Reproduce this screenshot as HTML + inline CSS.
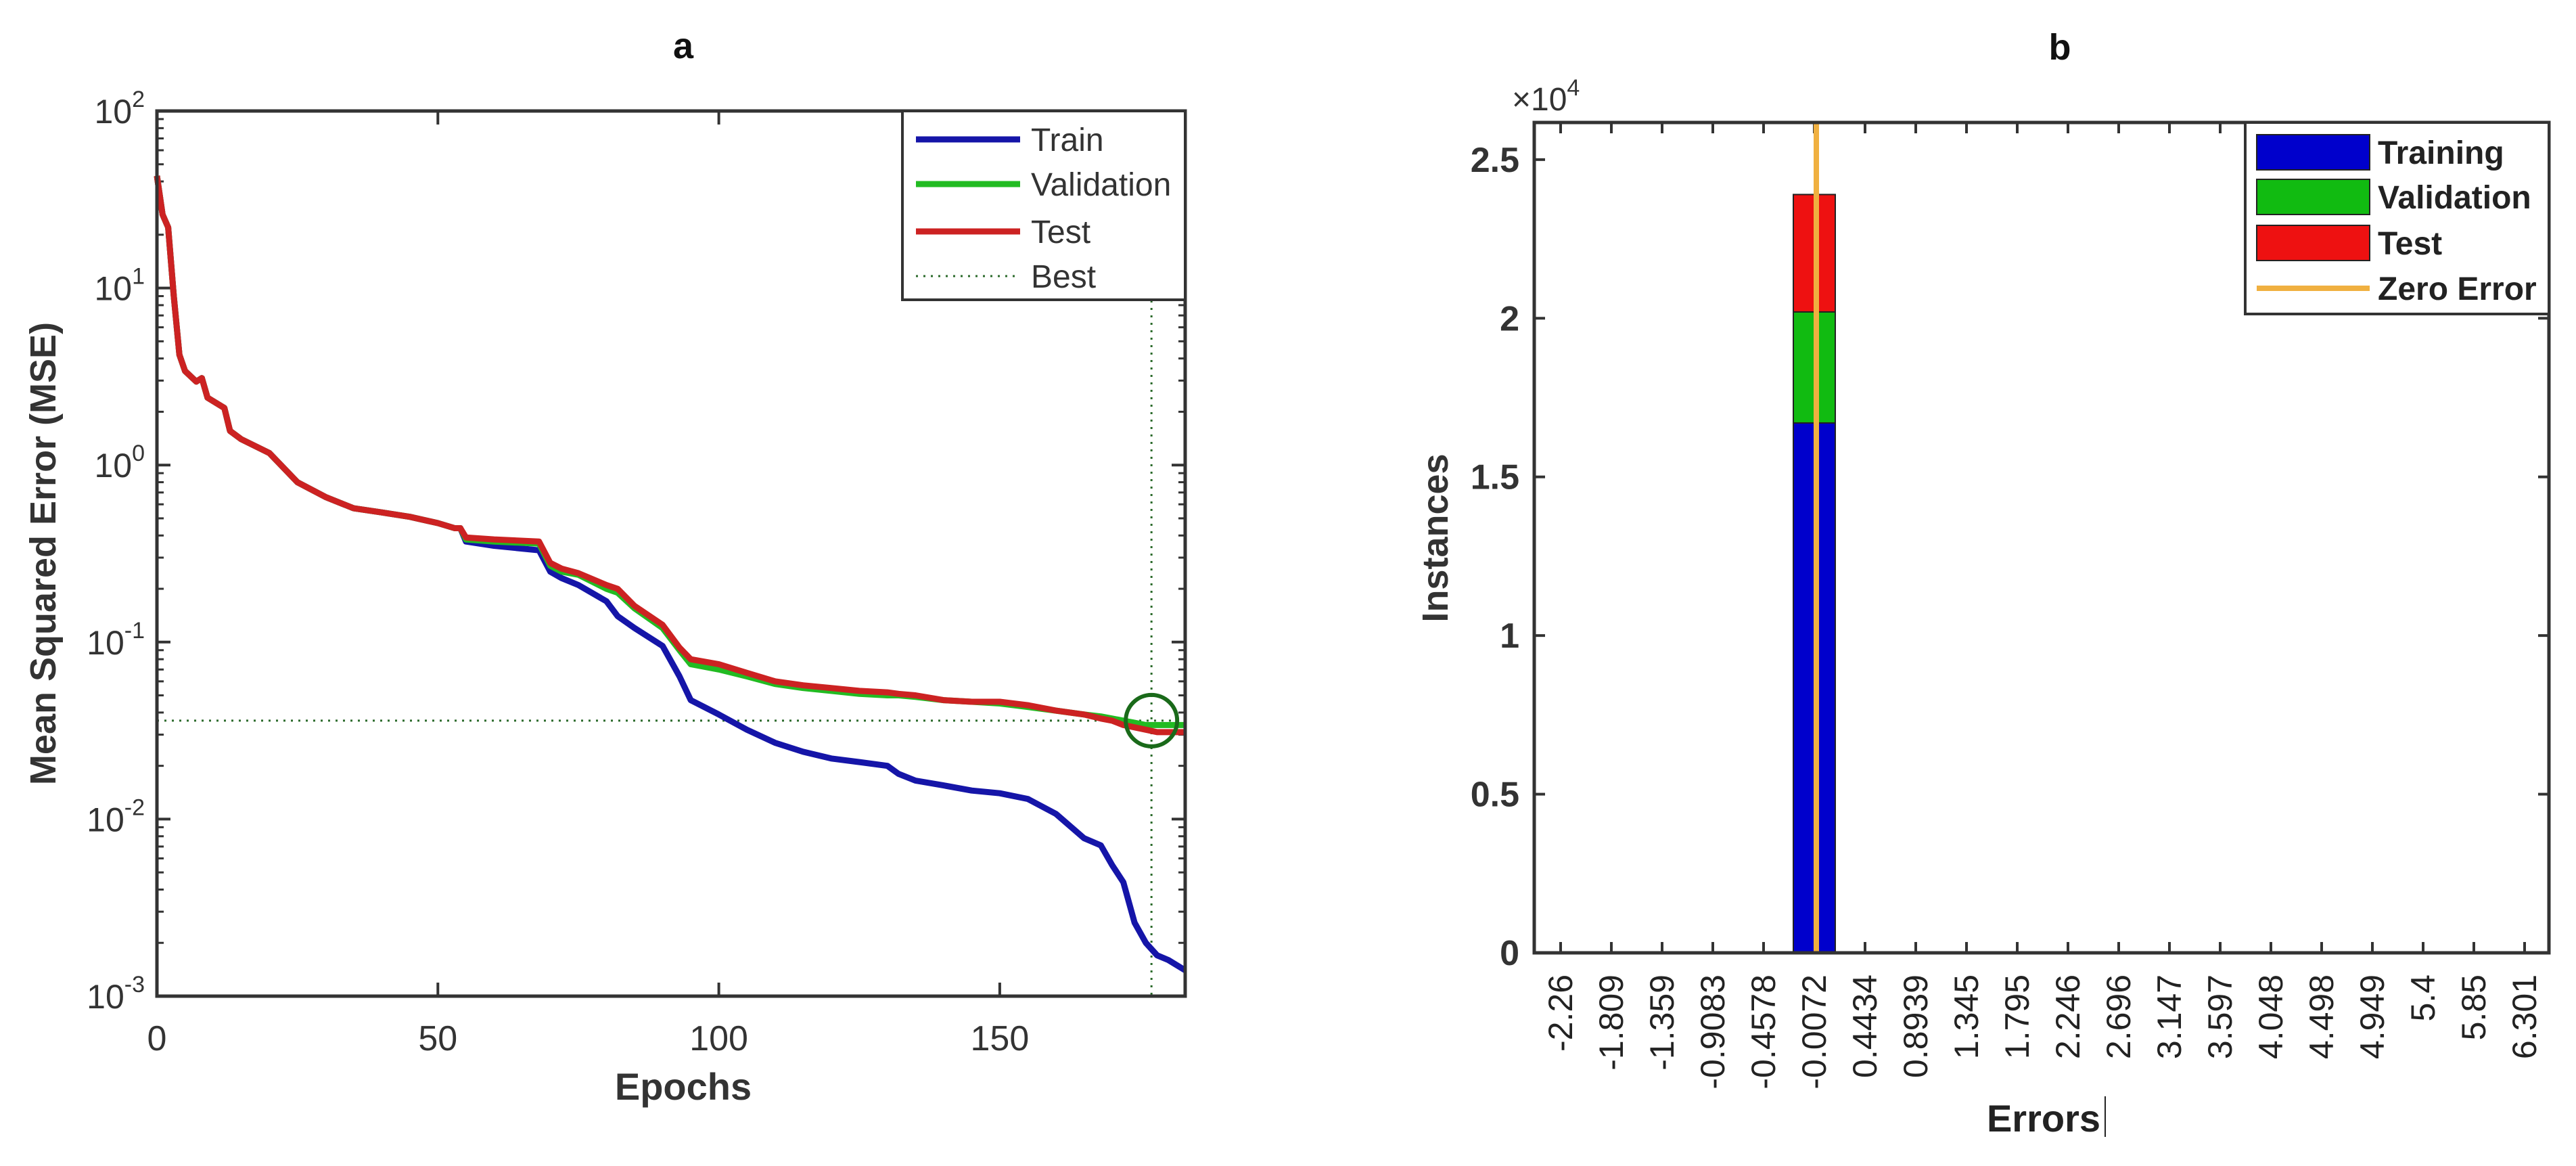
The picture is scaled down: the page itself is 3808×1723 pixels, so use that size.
<!DOCTYPE html>
<html><head><meta charset="utf-8"><style>
html,body{margin:0;padding:0;background:#fff;}
svg{display:block;font-family:"Liberation Sans",Arial,sans-serif;}
</style></head><body>
<svg id="fig" width="3808" height="1723" viewBox="0 0 3808 1723" xmlns="http://www.w3.org/2000/svg">
<g id="pa"></g>
<g id="pb"></g>
</svg>
<script>
// ---- Plot a: performance data ----
const epochs    = [0,1,2,3,4,5,7,8,9,12,13,15,20,25,30,35,40,45,50,53,54,55,60,68,70,72,75,80,82,85,90,93,95,100,105,110,115,120,125,130,132,135,140,145,150,155,160,165,168,170,172,174,176,178,180,183];
const trainMSE  = [43,26,22,9,4.2,3.4,2.96,3.1,2.4,2.1,1.56,1.4,1.17,0.8,0.66,0.57,0.54,0.51,0.47,0.44,0.44,0.37,0.35,0.33,0.25,0.23,0.21,0.17,0.14,0.12,0.095,0.064,0.047,0.039,0.032,0.027,0.024,0.022,0.021,0.020,0.018,0.0165,0.0155,0.0145,0.014,0.013,0.0107,0.0078,0.0071,0.0055,0.0044,0.0026,0.002,0.0017,0.0016,0.0014];
const valMSE    = [43,26,22,9,4.2,3.4,2.96,3.1,2.4,2.1,1.56,1.4,1.17,0.8,0.66,0.57,0.54,0.51,0.47,0.44,0.44,0.38,0.37,0.36,0.27,0.25,0.24,0.2,0.19,0.155,0.12,0.09,0.075,0.07,0.064,0.058,0.055,0.053,0.051,0.05,0.05,0.049,0.047,0.046,0.045,0.043,0.041,0.039,0.038,0.037,0.036,0.035,0.034,0.034,0.034,0.034];
const testMSE   = [43,26,22,9,4.2,3.4,2.96,3.1,2.4,2.1,1.56,1.4,1.17,0.8,0.66,0.57,0.54,0.51,0.47,0.44,0.44,0.39,0.38,0.37,0.28,0.26,0.245,0.21,0.2,0.16,0.125,0.093,0.08,0.075,0.067,0.06,0.057,0.055,0.053,0.052,0.051,0.05,0.047,0.046,0.046,0.044,0.041,0.039,0.037,0.036,0.034,0.033,0.032,0.031,0.031,0.031];
const bestEpoch = 177;
const bestMSE   = 0.036;
const xTicksA   = [0,50,100,150];
const yExpA     = [2,1,0,-1,-2,-3];
// ---- Plot b: histogram data ----
const binLabels = ["-2.26","-1.809","-1.359","-0.9083","-0.4578","-0.0072","0.4434","0.8939","1.345","1.795","2.246","2.696","3.147","3.597","4.048","4.498","4.949","5.4","5.85","6.301"];
const trainCounts = [0,0,0,0,0,16700,0,0,0,0,0,0,0,0,0,0,0,0,0,0];
const valCounts   = [0,0,0,0,0,3500,0,0,0,0,0,0,0,0,0,0,0,0,0,0];
const testCounts  = [0,0,0,0,0,3700,0,0,0,0,0,0,0,0,0,0,0,0,0,0];
const zeroErrorBin = 5;
const yTicksB = [0,0.5,1,1.5,2,2.5];

const NS="http://www.w3.org/2000/svg";
function mk(parent,tag,attrs,text){const e=document.createElementNS(NS,tag);for(const k in attrs)e.setAttribute(k,attrs[k]);if(text!==undefined)e.textContent=text;parent.appendChild(e);return e;}

// ===== Plot a =====
(function(){
const g=document.getElementById('pa');
const L=232,R=1752,T=164,B=1472,XMAX=183;
const xs=v=>L+(v/XMAX)*(R-L);
const ys=v=>T+(2-Math.log10(v))/5*(B-T);
let e;
e=mk(g,'text',{x:1010,y:86,'font-size':54,'font-weight':'bold','text-anchor':'middle',fill:'#111'},'a');


e=mk(g,'rect',{x:L,y:T,width:R-L,height:B-T,fill:'#fff'});


// minor log ticks
for(let d=-3;d<2;d++){for(let m=2;m<10;m++){const y=ys(m*Math.pow(10,d));
 mk(g,'line',{x1:L,x2:L+10,y1:y,y2:y,stroke:'#333','stroke-width':3});
 mk(g,'line',{x1:R,x2:R-10,y1:y,y2:y,stroke:'#333','stroke-width':3});}}
yExpA.forEach(p=>{const y=ys(Math.pow(10,p));
 mk(g,'line',{x1:L,x2:L+20,y1:y,y2:y,stroke:'#333','stroke-width':4});
 mk(g,'line',{x1:R,x2:R-20,y1:y,y2:y,stroke:'#333','stroke-width':4});
 e=mk(g,'text',{x:L-18,y:y+18,'font-size':50,'text-anchor':'end',fill:'#333'});
 
 
 mk(e,'tspan',{},'10');mk(e,'tspan',{dy:-24,'font-size':34},String(p));
});
xTicksA.forEach(v=>{const x=xs(v);
 mk(g,'line',{x1:x,x2:x,y1:B,y2:B-20,stroke:'#333','stroke-width':4});
 mk(g,'line',{x1:x,x2:x,y1:T,y2:T+20,stroke:'#333','stroke-width':4});
 e=mk(g,'text',{x:x,y:1552,'font-size':52,'text-anchor':'middle',fill:'#333'},String(v));
 
 
});
// best lines
e=mk(g,'line',{x1:L,x2:R,y1:ys(bestMSE),y2:ys(bestMSE),stroke:'#2a6a2a','stroke-width':3,'stroke-dasharray':'3,8'});


e=mk(g,'line',{x1:xs(bestEpoch),x2:xs(bestEpoch),y1:T+280,y2:B,stroke:'#2a6a2a','stroke-width':3,'stroke-dasharray':'3,8'});


const series=[['train-line',trainMSE,'#1515a8'],['validation-line',valMSE,'#22bb22'],['test-line',testMSE,'#cc2222']];
series.forEach(s=>{const pts=epochs.map((ep,i)=>xs(ep).toFixed(1)+','+ys(s[1][i]).toFixed(1)).join(' ');
 e=mk(g,'polyline',{points:pts,fill:'none',stroke:s[2],'stroke-width':9,'stroke-linejoin':'round'});
 
 
});
e=mk(g,'circle',{cx:xs(bestEpoch),cy:ys(bestMSE),r:38,fill:'none',stroke:'#1a6a1a','stroke-width':6});


e=mk(g,'rect',{x:L,y:T,width:R-L,height:B-T,fill:'none',stroke:'#333','stroke-width':5});


// legend
const lg=mk(g,'g',{});


mk(lg,'rect',{x:1334,y:164,width:418,height:279,fill:'#fff',stroke:'#333','stroke-width':4});
const lent=[['Train','#1515a8',206,''],['Validation','#22bb22',272,''],['Test','#cc2222',342,''],['Best','#2a6a2a',408,'3,8']];
lent.forEach(l=>{const le=mk(lg,'g',{});
 
 
 mk(le,'line',{x1:1354,x2:1508,y1:l[2],y2:l[2],stroke:l[1],'stroke-width':l[3]?3:9,'stroke-dasharray':l[3]||'none'});
 mk(le,'text',{x:1524,y:l[2]+17,'font-size':48,fill:'#333'},l[0]);
});
e=mk(g,'text',{x:1010,y:1625,'font-size':56,'font-weight':'bold','text-anchor':'middle',fill:'#333'},'Epochs');


e=mk(g,'text',{x:0,y:0,'font-size':54,'font-weight':'bold','text-anchor':'middle',fill:'#333',transform:'translate(82,818) rotate(-90)'},'Mean Squared Error  (MSE)');


})();

// ===== Plot b =====
(function(){
const g=document.getElementById('pb');
const L=2268,R=3768,T=181,B=1408,X0=2307,BW=75,YMAX=2.617;
const xs=i=>X0+i*BW;
const ys=v=>B-(v/1e4)/YMAX*(B-T);
let e;
e=mk(g,'text',{x:3045,y:88,'font-size':54,'font-weight':'bold','text-anchor':'middle',fill:'#111'},'b');


e=mk(g,'text',{x:2235,y:163,'font-size':48,fill:'#333'});


mk(e,'tspan',{},'×10');mk(e,'tspan',{dy:-22,'font-size':34},'4');
binLabels.forEach((lab,i)=>{const x=xs(i);
 mk(g,'line',{x1:x,x2:x,y1:B,y2:B-16,stroke:'#333','stroke-width':4});
 mk(g,'line',{x1:x,x2:x,y1:T,y2:T+16,stroke:'#333','stroke-width':4});
 e=mk(g,'text',{x:0,y:0,'font-size':50,'text-anchor':'end',fill:'#222',transform:'translate('+(x+17)+',1440) rotate(-90)'},lab);
 
 
});
yTicksB.forEach(v=>{const y=ys(v*1e4);
 mk(g,'line',{x1:L,x2:L+16,y1:y,y2:y,stroke:'#333','stroke-width':4});
 mk(g,'line',{x1:R,x2:R-16,y1:y,y2:y,stroke:'#333','stroke-width':4});
 e=mk(g,'text',{x:L-22,y:y+18,'font-size':52,'font-weight':'bold','text-anchor':'end',fill:'#333'},String(v));
 
 
});
const bw=62;
trainCounts.forEach((c,i)=>{
 const a=trainCounts[i],b=valCounts[i],t=testCounts[i];
 if(a+b+t<=0)return;
 const x=xs(i)-bw/2;
 e=mk(g,'rect',{x:x,y:ys(a),width:bw,height:B-ys(a),fill:'#0000cc',stroke:'#222','stroke-width':2});
 
 
 e=mk(g,'rect',{x:x,y:ys(a+b),width:bw,height:ys(a)-ys(a+b),fill:'#11bb11',stroke:'#222','stroke-width':2});
 
 
 e=mk(g,'rect',{x:x,y:ys(a+b+t),width:bw,height:ys(a+b)-ys(a+b+t),fill:'#ee1111',stroke:'#222','stroke-width':2});
 
 
});
e=mk(g,'line',{x1:xs(zeroErrorBin)+3,x2:xs(zeroErrorBin)+3,y1:T,y2:B,stroke:'#f0b040','stroke-width':8});


e=mk(g,'rect',{x:L,y:T,width:R-L,height:B-T,fill:'none',stroke:'#333','stroke-width':5});


const lg=mk(g,'g',{});


mk(lg,'rect',{x:3319,y:181,width:449,height:283,fill:'#fff',stroke:'#333','stroke-width':4});
const lent=[['Training','#0000cc',225],['Validation','#11bb11',291],['Test','#ee1111',359]];
lent.forEach(l=>{const le=mk(lg,'g',{});
 
 
 mk(le,'rect',{x:3336,y:l[2]-26,width:167,height:52,fill:l[1],stroke:'#222','stroke-width':2});
 mk(le,'text',{x:3515,y:l[2]+17,'font-size':48,'font-weight':'bold',fill:'#222'},l[0]);
});
const ze=mk(lg,'g',{});


mk(ze,'line',{x1:3336,x2:3503,y1:426,y2:426,stroke:'#f0b040','stroke-width':8});
mk(ze,'text',{x:3515,y:443,'font-size':48,'font-weight':'bold',fill:'#222'},'Zero Error');
e=mk(g,'text',{x:3021,y:1672,'font-size':56,'font-weight':'bold','text-anchor':'middle',fill:'#222'},'Errors');


e=mk(g,'line',{x1:3112,x2:3112,y1:1620,y2:1680,stroke:'#222','stroke-width':2});


e=mk(g,'text',{x:0,y:0,'font-size':54,'font-weight':'bold','text-anchor':'middle',fill:'#333',transform:'translate(2140,795) rotate(-90)'},'Instances');


})();
</script>
</body></html>
